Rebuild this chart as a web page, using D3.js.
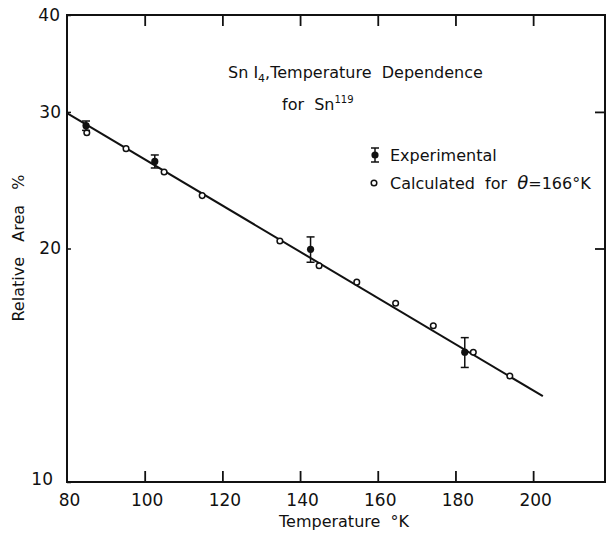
<!DOCTYPE html>
<html><head><meta charset="utf-8">
<script src="https://cdn.jsdelivr.net/npm/d3@7"></script>
<style>body{margin:0;background:#fff}svg{display:block}text{font-family:"DejaVu Sans",sans-serif;fill:#111;white-space:pre}</style>
</head><body><svg id="c" width="611" height="535"></svg>
<script>
// data
const xTicks = [80, 100, 120, 140, 160, 180, 200];
const yTicks = [10, 20, 30, 40];
const expT = [84.9, 102.6, 142.7, 182.4];
const expA = [28.8, 25.9, 19.95, 14.7];
const expErr = [0.4, 0.5, 0.75, 0.65];
const calcT = [85.1, 95.2, 105.0, 114.8, 134.8, 144.9, 154.6, 164.6, 174.3, 184.6, 194.0];
const calcA = [28.2, 26.9, 25.1, 23.4, 20.45, 19.0, 18.1, 17.0, 15.9, 14.7, 13.7];
const fitT = [80, 202.5];
const fitA = [29.9, 12.9];

const svg = d3.select("#c");
const L = 67, R = 605, T = 15, B = 482;
const x = d3.scaleLinear().domain([80, 218.5]).range([L, R]);
const y = d3.scaleLog().domain([10, 40]).range([B, T]);

// frame
svg.append("rect").attr("x", L).attr("y", T).attr("width", R - L).attr("height", B - T)
  .attr("fill", "none").attr("stroke", "#111").attr("stroke-width", 2);

// bottom axis (inward ticks)
const gb = svg.append("g").attr("transform", `translate(0,${B})`)
  .call(d3.axisBottom(x).tickValues(xTicks).tickSize(-11).tickPadding(14).tickFormat(d3.format("d")));
gb.select(".domain").remove();
gb.selectAll(".tick line").attr("stroke", "#111").attr("stroke-width", 1.8);
gb.selectAll(".tick").filter(d => d === 80).select("line").remove();
gb.selectAll("text").attr("font-size", 17).attr("dy", "0.75em").attr("transform", "translate(2,-3)");
// top axis ticks
const gt = svg.append("g").attr("transform", `translate(0,${T})`)
  .call(d3.axisTop(x).tickValues(xTicks.filter(d => d > 80)).tickSize(-11).tickFormat(""));
gt.select(".domain").remove();
gt.selectAll(".tick line").attr("stroke", "#111").attr("stroke-width", 1.8);

// left axis
const gl = svg.append("g").attr("transform", `translate(${L},0)`)
  .call(d3.axisLeft(y).tickValues(yTicks).tickSize(-4).tickPadding(6).tickFormat(d3.format("d")));
gl.select(".domain").remove();
gl.selectAll(".tick line").attr("stroke", "#111").attr("stroke-width", 1.5);
gl.selectAll("text").attr("font-size", 17);
gl.selectAll(".tick").filter(d => d === 10).select("text").attr("transform", "translate(-8,-3)");
gl.selectAll(".tick").filter(d => d === 40).select("text").attr("transform", "translate(-1,0)");
// right axis ticks
const gr = svg.append("g").attr("transform", `translate(${R},0)`)
  .call(d3.axisRight(y).tickValues([20, 30]).tickSize(-10).tickFormat(""));
gr.select(".domain").remove();
gr.selectAll(".tick line").attr("stroke", "#111").attr("stroke-width", 1.8);

// fit line
const line = d3.line().x((d, i) => x(fitT[i])).y(d => y(d));
svg.append("path").attr("d", line(fitA)).attr("fill", "none").attr("stroke", "#111").attr("stroke-width", 2);

// calculated points
svg.append("g").selectAll("circle").data(calcA).join("circle")
  .attr("cx", (d, i) => x(calcT[i])).attr("cy", d => y(d)).attr("r", 2.8)
  .attr("fill", "#fff").attr("stroke", "#111").attr("stroke-width", 1.5);

// experimental points
const ge = svg.append("g");
expA.forEach((a, i) => {
  const cx = x(expT[i]), y1 = y(a + expErr[i]), y2 = y(a - expErr[i]);
  ge.append("line").attr("x1", cx).attr("x2", cx).attr("y1", y1).attr("y2", y2).attr("stroke", "#111").attr("stroke-width", 1.5);
  [y1, y2].forEach(yy => ge.append("line").attr("x1", cx - 4).attr("x2", cx + 4).attr("y1", yy).attr("y2", yy).attr("stroke", "#111").attr("stroke-width", 1.5));
  ge.append("circle").attr("cx", cx).attr("cy", y(a)).attr("r", 3.6).attr("fill", "#111");
});

// title
const t1 = svg.append("text").attr("x", 228).attr("y", 78).attr("font-size", 16);
t1.append("tspan").text("Sn I");
t1.append("tspan").attr("font-size", 11).attr("dy", 4).text("4");
t1.append("tspan").attr("dy", -4).text(",Temperature  Dependence");
const t2 = svg.append("text").attr("x", 282).attr("y", 110).attr("font-size", 16);
t2.append("tspan").text("for  Sn");
t2.append("tspan").attr("font-size", 10).attr("dy", -7).text("119");

// legend
const lx = 375;
ge.append("line").attr("x1", lx).attr("x2", lx).attr("y1", 148).attr("y2", 162).attr("stroke", "#111").attr("stroke-width", 1.5);
[148, 162].forEach(yy => svg.append("line").attr("x1", lx - 4).attr("x2", lx + 4).attr("y1", yy).attr("y2", yy).attr("stroke", "#111").attr("stroke-width", 1.5));
svg.append("circle").attr("cx", lx).attr("cy", 155).attr("r", 3.6).attr("fill", "#111");
svg.append("text").attr("x", 390).attr("y", 161).attr("font-size", 16).text("Experimental");
svg.append("circle").attr("cx", lx - 1).attr("cy", 183).attr("r", 2.8).attr("fill", "#fff").attr("stroke", "#111").attr("stroke-width", 1.5);
const lt = svg.append("text").attr("x", 390).attr("y", 189).attr("font-size", 16);
lt.append("tspan").text("Calculated  for  ");
lt.append("tspan").attr("font-style", "italic").attr("font-size", 18).text("θ");
lt.append("tspan").text("=166°K");

// axis titles
svg.append("text").attr("x", 344).attr("y", 527).attr("text-anchor", "middle").attr("font-size", 16).text("Temperature  °K");
svg.append("text").attr("transform", "translate(24,248) rotate(-90)").attr("text-anchor", "middle").attr("font-size", 16).text("Relative   Area   %");
</script></body></html>
